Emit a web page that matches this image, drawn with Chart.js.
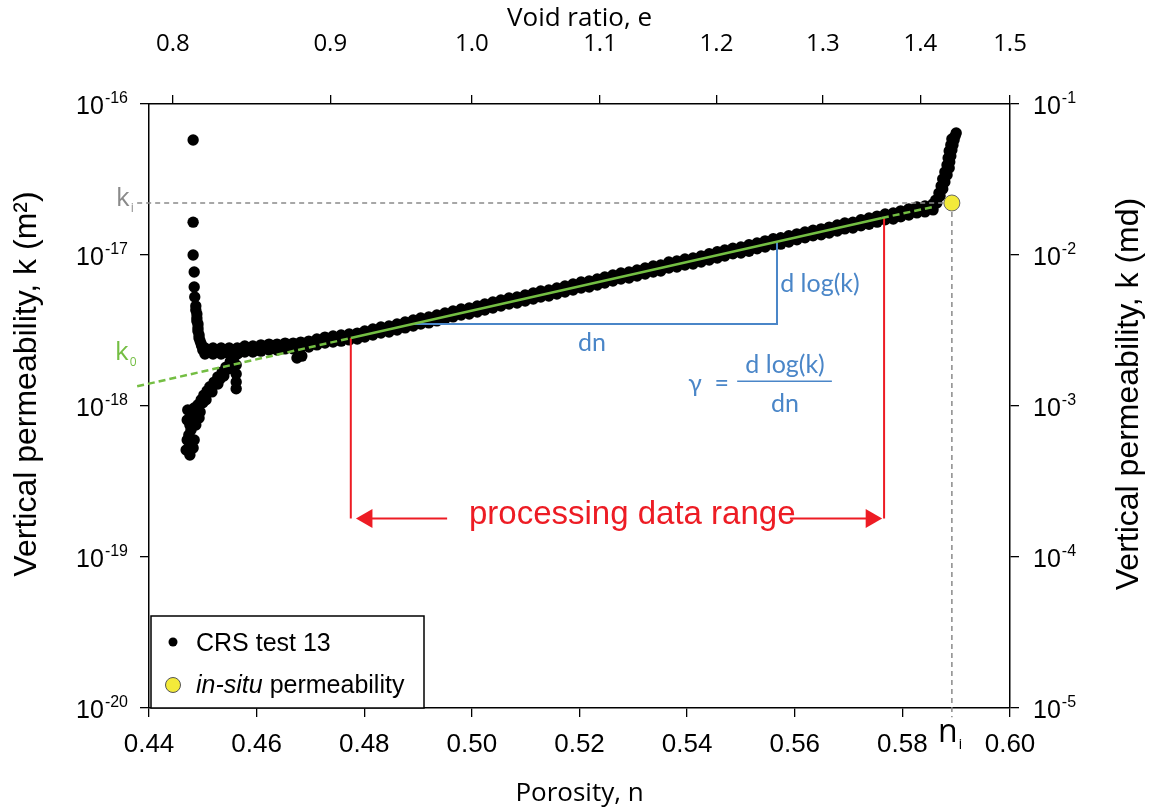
<!DOCTYPE html>
<html>
<head>
<meta charset="utf-8">
<script src="https://cdn.jsdelivr.net/npm/chart.js@4"></script>
<style>
  html, body { margin: 0; padding: 0; background: #fff; }
  #chart { display: block; }
</style>
</head>
<body>
<canvas id="chart" width="1151" height="812"></canvas>
<script>
// CRS test 13: porosity n and vertical permeability k (m^2)
// low-porosity end, lower branch (incl. the short spur)
const lowerBranchN = [0.4476, 0.4476, 0.4474, 0.4476, 0.4471, 0.4480, 0.4472, 0.4484, 0.4487, 0.4471,
  0.4482, 0.4493, 0.4491, 0.4497, 0.4502, 0.4508, 0.4513, 0.4521, 0.4528, 0.4536,
  0.4543, 0.4551, 0.4558, 0.4565, 0.4506, 0.4517, 0.4528, 0.4539,
  0.4478, 0.4485, 0.4500, 0.4495, 0.4532, 0.4547, 0.4554, 0.4469, 0.4484,
  0.4562, 0.4562, 0.4562, 0.4562];
const lowerBranchK = [4.74e-19, 5.52e-19, 6.43e-19, 7.48e-19, 8.08e-19, 8.72e-19, 9.41e-19, 9.70e-19, 7.48e-19, 5.95e-19,
  5.27e-19, 8.33e-19, 1.02e-18, 1.10e-18, 1.18e-18, 1.26e-18, 1.34e-18, 1.44e-18, 1.56e-18, 1.68e-18,
  1.81e-18, 1.96e-18, 2.11e-18, 2.24e-18, 1.10e-18, 1.24e-18, 1.40e-18, 1.58e-18,
  6.93e-19, 8.08e-19, 1.05e-18, 9.12e-19, 1.51e-18, 1.76e-18, 2.05e-18, 5.11e-19, 5.95e-19,
  1.87e-18, 1.63e-18, 1.44e-18, 1.30e-18];

// low-porosity end, steep upper branch and outlier
const descentN = [0.4482, 0.4482, 0.4482, 0.4484, 0.4484, 0.4485, 0.4487, 0.4489, 0.4489, 0.4491,
  0.4493, 0.4495, 0.4498, 0.4500, 0.4487, 0.4489, 0.4491, 0.4491, 0.4493, 0.4497,
  0.4502, 0.4506];
const descentK = [5.78e-17, 1.65e-17, 1.00e-17, 7.71e-18, 6.14e-18, 5.27e-18, 4.59e-18, 4.07e-18, 3.66e-18, 3.29e-18,
  2.95e-18, 2.69e-18, 2.50e-18, 2.35e-18, 4.32e-18, 3.83e-18, 3.49e-18, 3.14e-18, 2.82e-18, 2.57e-18,
  2.42e-18, 2.28e-18];

// main band: porosity, upper and lower edge of the dot band
const bandN = [0.4504, 0.4519, 0.4534, 0.4549, 0.4564, 0.4578, 0.4593, 0.4608, 0.4623, 0.4638,
  0.4653, 0.4668, 0.4682, 0.4697, 0.4712, 0.4727, 0.4742, 0.4757, 0.4772, 0.4787,
  0.4801, 0.4816, 0.4831, 0.4846, 0.4861, 0.4876, 0.4891, 0.4905, 0.4920, 0.4935,
  0.4950, 0.4965, 0.4980, 0.4995, 0.5010, 0.5024, 0.5039, 0.5054, 0.5069, 0.5084,
  0.5099, 0.5114, 0.5128, 0.5143, 0.5158, 0.5173, 0.5188, 0.5203, 0.5218, 0.5233,
  0.5247, 0.5262, 0.5277, 0.5292, 0.5307, 0.5322, 0.5337, 0.5351, 0.5366, 0.5381,
  0.5396, 0.5411, 0.5426, 0.5441, 0.5456, 0.5470, 0.5485, 0.5500, 0.5515, 0.5530,
  0.5545, 0.5560, 0.5574, 0.5589, 0.5604, 0.5619, 0.5634, 0.5649, 0.5664, 0.5679,
  0.5693, 0.5708, 0.5723, 0.5738, 0.5753, 0.5768, 0.5783, 0.5797, 0.5812, 0.5827,
  0.5842, 0.5857];
const bandK = [2.42e-18, 2.21e-18, 2.42e-18, 2.21e-18, 2.42e-18, 2.28e-18, 2.50e-18, 2.31e-18, 2.57e-18, 2.35e-18,
  2.61e-18, 2.39e-18, 2.65e-18, 2.46e-18, 2.78e-18, 2.61e-18, 2.91e-18, 2.69e-18, 3.00e-18, 2.78e-18,
  3.14e-18, 2.95e-18, 3.34e-18, 3.09e-18, 3.49e-18, 3.29e-18, 3.71e-18, 3.49e-18, 3.89e-18, 3.66e-18,
  4.13e-18, 3.89e-18, 4.39e-18, 4.07e-18, 4.59e-18, 4.32e-18, 4.88e-18, 4.59e-18, 5.19e-18, 4.81e-18,
  5.43e-18, 5.11e-18, 5.77e-18, 5.35e-18, 6.04e-18, 5.69e-18, 6.42e-18, 6.04e-18, 6.73e-18, 6.33e-18,
  7.15e-18, 6.73e-18, 7.60e-18, 7.04e-18, 7.95e-18, 7.48e-18, 8.46e-18, 7.83e-18, 8.99e-18, 8.33e-18,
  9.41e-18, 8.72e-18, 9.85e-18, 9.27e-18, 1.05e-17, 9.85e-18, 1.11e-17, 1.03e-17, 1.17e-17, 1.10e-17,
  1.24e-17, 1.17e-17, 1.30e-17, 1.22e-17, 1.38e-17, 1.30e-17, 1.46e-17, 1.36e-17, 1.53e-17, 1.44e-17,
  1.63e-17, 1.51e-17, 1.71e-17, 1.60e-17, 1.81e-17, 1.71e-17, 1.90e-17, 1.79e-17, 2.02e-17, 1.90e-17,
  2.11e-17, 1.99e-17];
const bandK2 = [2.21e-18, 2.42e-18, 2.21e-18, 2.42e-18, 2.21e-18, 2.50e-18, 2.28e-18, 2.54e-18, 2.35e-18, 2.57e-18,
  2.39e-18, 2.61e-18, 2.42e-18, 2.69e-18, 2.54e-18, 2.86e-18, 2.65e-18, 2.95e-18, 2.74e-18, 3.04e-18,
  2.86e-18, 3.24e-18, 3.04e-18, 3.39e-18, 3.19e-18, 3.60e-18, 3.39e-18, 3.83e-18, 3.55e-18, 4.01e-18,
  3.77e-18, 4.26e-18, 4.01e-18, 4.46e-18, 4.19e-18, 4.74e-18, 4.46e-18, 5.03e-18, 4.74e-18, 5.27e-18,
  4.96e-18, 5.60e-18, 5.27e-18, 5.86e-18, 5.52e-18, 6.23e-18, 5.86e-18, 6.62e-18, 6.14e-18, 6.93e-18,
  6.52e-18, 7.37e-18, 6.93e-18, 7.71e-18, 7.26e-18, 8.20e-18, 7.71e-18, 8.59e-18, 8.20e-18, 9.13e-18,
  8.59e-18, 9.55e-18, 8.99e-18, 1.02e-17, 9.55e-18, 1.08e-17, 1.02e-17, 1.13e-17, 1.06e-17, 1.20e-17,
  1.13e-17, 1.28e-17, 1.18e-17, 1.34e-17, 1.26e-17, 1.42e-17, 1.34e-17, 1.49e-17, 1.40e-17, 1.58e-17,
  1.49e-17, 1.65e-17, 1.56e-17, 1.76e-17, 1.65e-17, 1.87e-17, 1.73e-17, 1.96e-17, 1.84e-17, 2.08e-17,
  1.93e-17, 2.18e-17];
// small dip below the band near n = 0.468
const dipN = [0.4675, 0.4684];
const dipK = [2.08e-18, 2.14e-18];

// high-porosity hook near the in-situ state
const hookN = [0.5864, 0.5870, 0.5875, 0.5879, 0.5883, 0.5887, 0.5888, 0.5890, 0.5892, 0.5894,
  0.5896, 0.5898, 0.5900, 0.5857, 0.5862, 0.5868, 0.5872, 0.5875, 0.5879, 0.5883,
  0.5885, 0.5887, 0.5890, 0.5892];
const hookK = [2.21e-17, 2.46e-17, 2.74e-17, 3.04e-17, 3.39e-17, 3.77e-17, 4.13e-17, 4.53e-17, 4.96e-17, 5.35e-17,
  5.78e-17, 6.14e-17, 6.42e-17, 2.14e-17, 2.31e-17, 2.57e-17, 2.86e-17, 3.19e-17, 3.55e-17, 3.95e-17,
  4.39e-17, 4.88e-17, 5.35e-17, 5.86e-17];

// in-situ permeability point (n_i, k_i)
const inSituN = [0.5892];
const inSituK = [2.21e-17];

// guide lines
const kiLineN = [0.4378, 0.5892];
const kiLineK = [2.21e-17, 2.21e-17];
const niLineN = [0.5892, 0.5892];
const niLineK = [2.21e-17, 8.7e-21];
const fitN = [0.4378, 0.4775, 0.5762, 0.5857];
const fitK = [1.35e-18, 2.82e-18, 1.76e-17, 2.08e-17];
const slopeN = [0.4891, 0.5567, 0.5567];
const slopeK = [3.49e-18, 3.49e-18, 1.22e-17];
const rangeLeftN = [0.4775, 0.4775];
const rangeLeftK = [2.82e-18, 1.8e-19];
const rangeRightN = [0.5766, 0.5766];
const rangeRightK = [1.76e-17, 1.8e-19];
const arrowLeftN = [0.4805, 0.4954];
const arrowRightN = [0.5591, 0.5742];
const arrowK = [1.8e-19, 1.8e-19];
const arrowHeadN = [0.4805, 0.5742];
const arrowHeadK = [1.8e-19, 1.8e-19];

// axes
const porosityTicks = [0.44, 0.46, 0.48, 0.50, 0.52, 0.54, 0.56, 0.58, 0.60];
const voidRatioTicks = [0.8, 0.9, 1.0, 1.1, 1.2, 1.3, 1.4, 1.5];
const permTicksM2 = [1e-20, 1e-19, 1e-18, 1e-17, 1e-16];
const permTicksMd = [1e-5, 1e-4, 1e-3, 1e-2, 1e-1];

const BLUE = "#4a86c8";
const RED = "#ed1c24";
const GREEN = "#74be43";
const GREY = "#8a8a8a";

function pts(ns, ks) {
  return ns.map((n, i) => ({ x: n, y: ks[i] }));
}

function guide(data, color, width, dash) {
  return {
    type: "line",
    data: data,
    borderColor: color,
    borderWidth: width,
    borderDash: dash || [],
    pointRadius: 0,
    showLine: true,
    fill: false,
    tension: 0,
    clip: false,
    order: 1,
  };
}

// "10" with a raised exponent
function drawPower(ctx, v, x, y, align) {
  const p = String(Math.round(Math.log10(v)));
  ctx.font = '25px "Liberation Sans"';
  const w1 = ctx.measureText("10").width;
  ctx.font = '16px "Liberation Sans"';
  const w2 = ctx.measureText(p).width;
  const left = align === "right" ? x - w1 - w2 - 1 : x;
  ctx.textAlign = "left";
  ctx.font = '25px "Liberation Sans"';
  ctx.fillText("10", left, y + 10);
  ctx.font = '16px "Liberation Sans"';
  ctx.fillText(p, left + w1 + 1, y - 1);
}

// tick labels of the log axes, text, legend and y titles drawn on top
const notesPlugin = {
  id: "notes",
  afterDatasetsDraw(chart) {
    const { ctx, chartArea: area, scales } = chart;
    const X = (n) => scales.x.getPixelForValue(n);
    const Y = (k) => scales.y.getPixelForValue(k);
    ctx.save();
    ctx.textBaseline = "alphabetic";

    ctx.fillStyle = "#000";
    permTicksM2.forEach((v) => drawPower(ctx, v, area.left - 21, scales.y.getPixelForValue(v), "right"));
    permTicksMd.forEach((v) => drawPower(ctx, v, area.right + 23, scales.y2.getPixelForValue(v), "left"));

    // blue slope annotations
    ctx.fillStyle = BLUE;
    ctx.font = '25px "Lato"';
    ctx.textAlign = "left";
    ctx.fillText("d log(k)", X(0.5573), Y(5.69e-18));
    ctx.textAlign = "center";
    ctx.fillText("dn", X(0.5223), Y(2.31e-18));
    ctx.textAlign = "left";
    ctx.fillText("\u03B3  =", X(0.5402), Y(1.24e-18));
    ctx.textAlign = "center";
    ctx.fillText("d log(k)", X(0.5582), Y(1.65e-18));
    ctx.fillText("dn", X(0.5582), Y(9.12e-19));
    ctx.strokeStyle = BLUE;
    ctx.lineWidth = 1.5;
    ctx.beginPath();
    ctx.moveTo(X(0.5493), Y(1.46e-18));
    ctx.lineTo(X(0.5669), Y(1.46e-18));
    ctx.stroke();

    // processing range label
    ctx.fillStyle = RED;
    ctx.font = '33px "Liberation Sans"';
    ctx.textAlign = "center";
    ctx.fillText("processing data range", X(0.5298), Y(1.65e-19));

    // k_i, k_0 and n_i
    const subLabel = (main, sub, x, y, size, color) => {
      ctx.fillStyle = color;
      ctx.textAlign = "left";
      ctx.font = size + 'px "Open Sans"';
      ctx.fillText(main, x, y);
      const w = ctx.measureText(main).width;
      ctx.font = Math.round(size * 0.48) + 'px "Open Sans"';
      ctx.fillText(sub, x + w + 1, y + size * 0.22);
    };
    subLabel("k", "i", X(0.43387), Y(2.11e-17), 26, GREY);
    subLabel("k", "0", X(0.43368), Y(2.02e-18), 26, GREEN);
    subLabel("n", "i", X(0.58662), Y(5.96e-21), 32, "#000");

    // legend box
    const lx = area.left + 2;
    const ly = area.bottom - 92;
    ctx.fillStyle = "#fff";
    ctx.fillRect(lx, ly, 273, 92);
    ctx.strokeStyle = "#000";
    ctx.lineWidth = 1.5;
    ctx.strokeRect(lx, ly, 273, 92);
    ctx.fillStyle = "#000";
    ctx.beginPath();
    ctx.arc(lx + 22, ly + 26, 4.5, 0, Math.PI * 2);
    ctx.fill();
    ctx.font = '25px "Liberation Sans"';
    ctx.textAlign = "left";
    ctx.fillText("CRS test 13", lx + 45, ly + 35);
    ctx.beginPath();
    ctx.arc(lx + 22, ly + 69, 7.5, 0, Math.PI * 2);
    ctx.fillStyle = "#f3ea3a";
    ctx.fill();
    ctx.strokeStyle = "#555";
    ctx.lineWidth = 1;
    ctx.stroke();
    ctx.fillStyle = "#000";
    ctx.font = 'italic 25px "Liberation Sans"';
    ctx.fillText("in-situ", lx + 45, ly + 77);
    const iw = ctx.measureText("in-situ").width;
    ctx.font = '25px "Liberation Sans"';
    ctx.fillText(" permeability", lx + 45 + iw, ly + 77);

    // y axis titles (both read bottom to top)
    const yTitle = (text, x, y) => {
      ctx.save();
      ctx.translate(x, y);
      ctx.rotate(-Math.PI / 2);
      ctx.textAlign = "center";
      ctx.textBaseline = "middle";
      ctx.font = '32px "Liberation Sans"';
      ctx.fillStyle = "#000";
      ctx.fillText(text, 0, 0);
      ctx.restore();
    };
    yTitle("Vertical permeability, k (m\u00B2)", 27, 384);
    yTitle("Vertical permeability, k (md)", scales.y2.right - 22, 394);

    ctx.restore();
  },
};

const axisGrid = { drawOnChartArea: false, drawTicks: true, tickLength: 9, color: "#000", lineWidth: 1.3 };
const axisBorder = { display: true, color: "#000", width: 1.5 };

new Chart(document.getElementById("chart"), {
  type: "scatter",
  data: {
    datasets: [
      {
        label: "CRS test 13",
        data: pts(lowerBranchN.concat(descentN, bandN, bandN, dipN, hookN),
          lowerBranchK.concat(descentK, bandK, bandK2, dipK, hookK)),
        backgroundColor: "#000",
        borderWidth: 0,
        pointRadius: 5.7,
        order: 5,
      },
      guide(pts(kiLineN, kiLineK), GREY, 1.5, [5, 4]),
      guide(pts(niLineN, niLineK), GREY, 1.5, [5, 4]),
      Object.assign(guide(pts(fitN, fitK), GREEN, 2.5), {
        segment: { borderDash: (c) => (c.p0DataIndex === 1 ? [] : [7, 4]) },
      }),
      guide(pts(slopeN, slopeK), BLUE, 2),
      guide(pts(rangeLeftN, rangeLeftK), RED, 2),
      guide(pts(rangeRightN, rangeRightK), RED, 2),
      guide(pts(arrowLeftN, arrowK), RED, 2),
      guide(pts(arrowRightN, arrowK), RED, 2),
      {
        data: pts(arrowHeadN, arrowHeadK),
        pointStyle: "triangle",
        pointRotation: [-90, 90],
        pointRadius: 11,
        backgroundColor: RED,
        borderWidth: 0,
        clip: false,
        order: 1,
      },
      {
        label: "in-situ permeability",
        data: pts(inSituN, inSituK),
        backgroundColor: "#f3ea3a",
        borderColor: "#666",
        borderWidth: 1,
        pointRadius: 8,
        clip: false,
        order: 0,
      },
    ],
  },
  options: {
    responsive: false,
    animation: false,
    events: [],
    layout: { padding: 0, autoPadding: false },
    plugins: { legend: { display: false }, tooltip: { enabled: false } },
    scales: {
      x: {
        type: "linear",
        position: "bottom",
        min: 0.44,
        max: 0.6,
        afterBuildTicks: (s) => { s.ticks = porosityTicks.map((v) => ({ value: v })); },
        afterFit: (s) => { s.height = 104; },
        ticks: { autoSkip: false, maxRotation: 0, padding: 12, color: "#000",
          font: { family: "Liberation Sans", size: 26 }, callback: (v) => Number(v).toFixed(2) },
        grid: axisGrid,
        border: axisBorder,
        title: { display: true, text: "Porosity, n", color: "#000",
          font: { family: "Open Sans", size: 26 }, padding: { top: 0, bottom: 3 } },
      },
      x2: {
        type: "linear",
        position: "top",
        min: 0.44,
        max: 0.6,
        afterBuildTicks: (s) => { s.ticks = voidRatioTicks.map((e) => ({ value: e / (1 + e) })); },
        afterFit: (s) => { s.height = 104; },
        ticks: { autoSkip: false, maxRotation: 0, padding: 36, color: "#000",
          font: { family: "Open Sans", size: 24 }, callback: (v, i) => voidRatioTicks[i].toFixed(1) },
        grid: axisGrid,
        border: axisBorder,
        title: { display: true, text: "Void ratio, e", color: "#000",
          font: { family: "Open Sans", size: 26 }, padding: { top: 3, bottom: 0 } },
      },
      y: {
        type: "logarithmic",
        position: "left",
        min: 1e-20,
        max: 1e-16,
        afterBuildTicks: (s) => { s.ticks = permTicksM2.map((v) => ({ value: v })); },
        afterFit: (s) => { s.width = 149; },
        ticks: { autoSkip: false, callback: () => "" },
        grid: axisGrid,
        border: axisBorder,
      },
      y2: {
        type: "logarithmic",
        position: "right",
        min: 1e-5,
        max: 1e-1,
        afterBuildTicks: (s) => { s.ticks = permTicksMd.map((v) => ({ value: v })); },
        afterFit: (s) => { s.width = 141; },
        ticks: { autoSkip: false, callback: () => "" },
        grid: axisGrid,
        border: axisBorder,
      },
    },
  },
  plugins: [notesPlugin],
});
</script>
</body>
</html>
